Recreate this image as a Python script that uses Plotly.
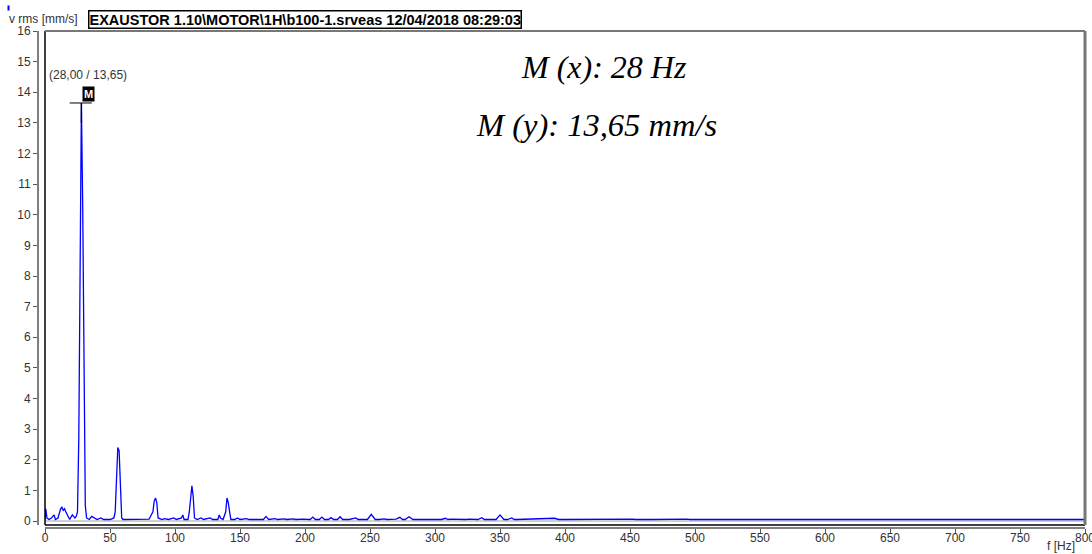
import plotly.graph_objects as go

# ---- data ----
freq_hz = [0, 0.6, 1.5, 3, 5, 7, 8, 10, 12, 13, 14, 15, 16, 18, 19, 21, 23, 24, 25,
           26, 27, 28, 29, 30, 31, 32, 34, 36, 38, 40, 43, 45, 50, 53, 54, 55, 56, 57,
           58, 59, 60, 78, 80, 83, 84, 85, 86, 87, 90, 92, 95, 99, 101, 105, 106, 107,
           110, 111, 112, 113, 114, 115, 117, 120, 122, 127, 129, 133, 134, 135, 137,
           139, 140, 141, 142, 143, 146, 148, 150, 155, 157, 162, 164, 168, 170, 172,
           177, 179, 184, 186, 191, 193, 198, 200, 204, 206, 208, 211, 213, 215, 218,
           220, 222, 225, 227, 229, 232, 234, 239, 241, 243, 246, 248, 251, 254, 257,
           261, 263, 268, 270, 273, 275, 277, 280, 283, 286, 289, 291, 296, 298, 303,
           305, 308, 310, 312, 317, 319, 324, 326, 331, 333, 336, 338, 340, 345, 347,
           350, 353, 356, 359, 361, 363, 392, 395, 398, 436, 438, 440, 452, 454, 465,
           467, 494, 496, 800]
v_rms = [0.05, 0.4, 0.1, 0.05, 0.1, 0.2, 0.05, 0.1, 0.4, 0.45, 0.35, 0.4, 0.3, 0.15, 0.05,
         0.2, 0.1, 0.15, 0.3, 2.7, 9.2, 13.65, 10.3, 5.0, 0.5, 0.1, 0.05, 0.15, 0.1, 0.05,
         0.1, 0.05, 0.05, 0.1, 0.3, 1.4, 2.4, 2.3, 1.3, 0.1, 0.05, 0.05, 0.06, 0.3, 0.65,
         0.75, 0.6, 0.1, 0.05, 0.08, 0.05, 0.1, 0.05, 0.1, 0.2, 0.05, 0.05, 0.3, 0.85, 1.15,
         0.8, 0.1, 0.05, 0.1, 0.05, 0.1, 0.05, 0.05, 0.2, 0.1, 0.05, 0.3, 0.75, 0.6, 0.3,
         0.05, 0.05, 0.1, 0.05, 0.08, 0.05, 0.06, 0.05, 0.05, 0.15, 0.05, 0.08, 0.05, 0.07,
         0.05, 0.07, 0.05, 0.06, 0.05, 0.05, 0.13, 0.05, 0.05, 0.13, 0.05, 0.05, 0.11,
         0.05, 0.05, 0.14, 0.05, 0.05, 0.05, 0.1, 0.05, 0.05, 0.05, 0.05, 0.22, 0.05, 0.05,
         0.07, 0.05, 0.05, 0.06, 0.12, 0.05, 0.05, 0.14, 0.05, 0.05, 0.06, 0.05, 0.06,
         0.05, 0.05, 0.05, 0.09, 0.05, 0.06, 0.05, 0.07, 0.05, 0.06, 0.05, 0.05, 0.11,
         0.05, 0.05, 0.05, 0.05, 0.2, 0.05, 0.05, 0.1, 0.05, 0.05, 0.09, 0.05, 0.05, 0.07,
         0.05, 0.05, 0.06, 0.05, 0.06, 0.05, 0.06, 0.05, 0.05]

x_ticks = [0, 50, 100, 150, 200, 250, 300, 350, 400, 450, 500, 550, 600, 650, 700, 750, 800]
y_ticks = list(range(0, 17))

marker_f = 28.0
marker_v = 13.65

W, H = 1092, 554
x0p, x1p = 45 / W, 1085 / W
y_top, y_bot = 1 - 31 / H, 1 - 525 / H

fig = go.Figure()
fig.add_trace(go.Scatter(x=freq_hz, y=v_rms, mode="lines",
                         line=dict(color="#0000ff", width=1.3),
                         showlegend=False, hoverinfo="x+y"))

# marker cursor (vertical black segment on top of peak + horizontal crosshair)
fig.add_trace(go.Scatter(x=[marker_f, marker_f], y=[13.0, marker_v], mode="lines",
                         line=dict(color="black", width=1.3), showlegend=False))
fig.add_trace(go.Scatter(x=[marker_f - 9, marker_f + 8], y=[marker_v, marker_v], mode="lines",
                         line=dict(color="black", width=1), showlegend=False))

sans = "Liberation Sans, Arial, sans-serif"
tickfont = dict(family=sans, size=12, color="#333333")

fig.update_layout(
    width=W, height=H,
    margin=dict(l=0, r=0, t=0, b=0, pad=0, autoexpand=False),
    paper_bgcolor="white", plot_bgcolor="white",
    xaxis=dict(domain=[x0p, x1p], range=[0, 800], anchor="free", position=1 - 528 / H,
               tickvals=x_ticks, ticks="outside", ticklen=4, tickcolor="#555555",
               showline=True, linecolor="#808080", linewidth=2, showgrid=False,
               zeroline=False, tickfont=tickfont, fixedrange=True, automargin=False,
               ticklabeloverflow="allow", ticklabelstandoff=-5),
    yaxis=dict(domain=[y_bot, y_top], range=[-0.13, 16.0], anchor="free", position=38 / W,
               tickvals=y_ticks, ticks="outside", ticklen=4, tickcolor="#555555",
               showline=True, linecolor="#808080", linewidth=2, showgrid=False,
               zeroline=False, tickfont=tickfont, fixedrange=True, automargin=False,
               ticklabeloverflow="allow", ticklabelstandoff=0),
    shapes=[
        dict(type="line", xref="x", yref="y", x0=0, x1=800, y0=0, y1=0,
             line=dict(color="#a0a0a0", width=1), layer="below"),
        dict(type="line", xref="paper", yref="paper", x0=x0p, x1=x0p, y0=y_bot, y1=y_top,
             line=dict(color="black", width=1.5)),
        dict(type="line", xref="paper", yref="paper", x0=x0p, x1=x1p, y0=y_bot, y1=y_bot,
             line=dict(color="black", width=1.5)),
        dict(type="line", xref="paper", yref="paper", x0=x0p, x1=x1p, y0=y_top, y1=y_top,
             line=dict(color="#777777", width=2)),
        dict(type="line", xref="paper", yref="paper", x0=x1p, x1=x1p, y0=y_bot, y1=y_top,
             line=dict(color="#777777", width=3)),
    ],
    annotations=[
        dict(text="v rms [mm/s]", xref="paper", yref="paper", x=7 / W, y=1 - 19 / H,
             xanchor="left", yanchor="middle", showarrow=False,
             font=dict(family=sans, size=12, color="#333333")),
        dict(text="<b>EXAUSTOR 1.10\\MOTOR\\1H\\b100-1.srveas 12/04/2018 08:29:03</b>",
             xref="paper", yref="paper", x=88 / W, y=1 - 19 / H,
             xanchor="left", yanchor="middle", showarrow=False,
             bordercolor="black", borderwidth=1.5, borderpad=0, bgcolor="white",
             font=dict(family=sans, size=14.5, color="black")),
        dict(text="(28,00 / 13,65)", xref="paper", yref="paper", x=47 / W, y=1 - 75 / H,
             xanchor="left", yanchor="middle", showarrow=False,
             font=dict(family=sans, size=12, color="#333333")),
        dict(text="<b>M</b>", xref="x", yref="paper", x=marker_f + 0.3, y=1 - 94 / H,
             xanchor="left", yanchor="middle", showarrow=False, bgcolor="black",
             borderpad=1, font=dict(family=sans, size=11, color="white")),
        dict(text="<i>M (x): 28 Hz</i>", xref="paper", yref="paper", x=604 / W, y=1 - 67 / H,
             xanchor="center", yanchor="middle", showarrow=False,
             font=dict(family="Liberation Serif, Times New Roman, serif", size=32, color="black")),
        dict(text="<i>M (y): 13,65 mm/s</i>", xref="paper", yref="paper", x=596 / W, y=1 - 125 / H,
             xanchor="center", yanchor="middle", showarrow=False,
             font=dict(family="Liberation Serif, Times New Roman, serif", size=32.5, color="black")),
        dict(text="f [Hz]", xref="paper", yref="paper", x=1061 / W, y=1 - 546 / H,
             xanchor="center", yanchor="middle", showarrow=False,
             font=dict(family=sans, size=12, color="#333333")),
        dict(text=" ", xref="paper", yref="paper", x=7 / W, y=1 - 5 / H, showarrow=False,
             bgcolor="#0000ff", width=1, height=4, borderpad=0, font=dict(size=1)),
    ],
)

fig.write_html("out.html")
